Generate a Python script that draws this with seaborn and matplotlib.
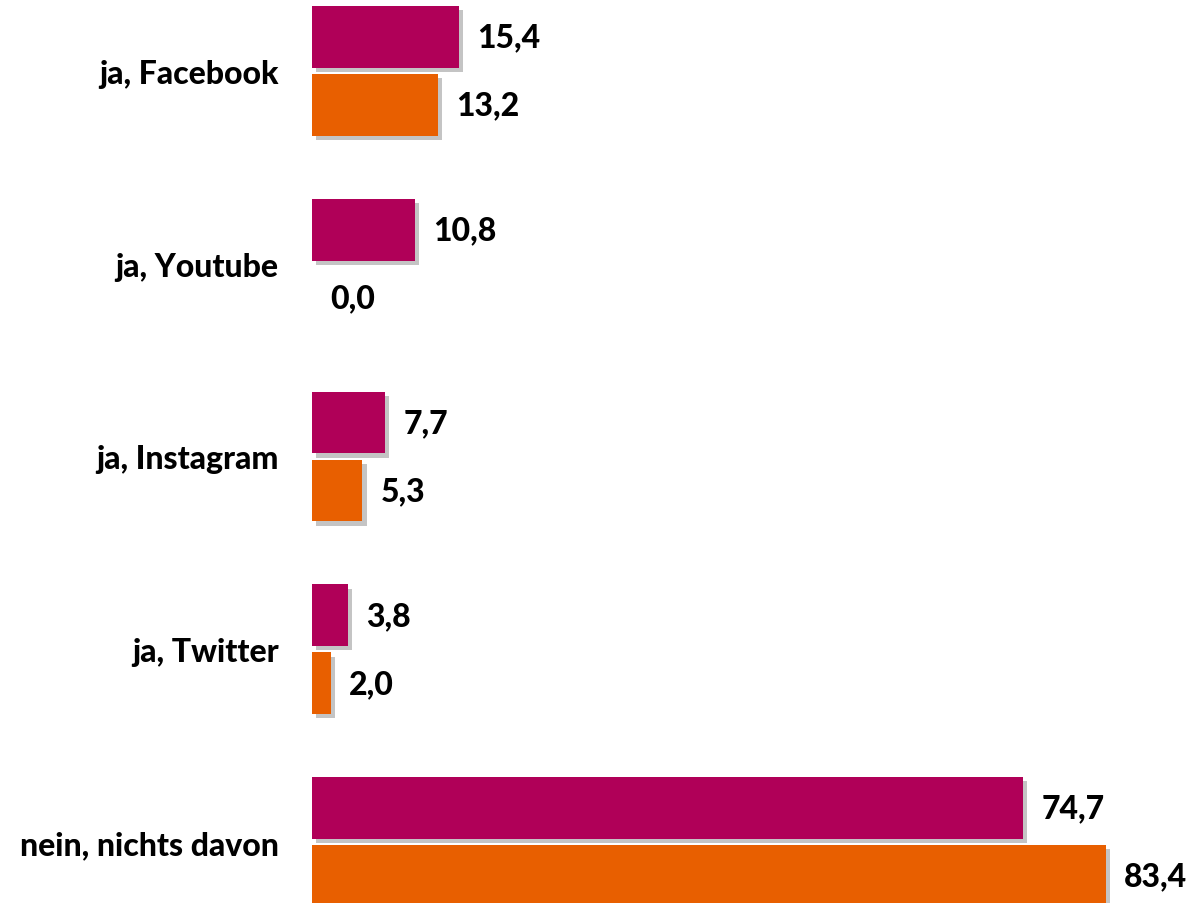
import pandas as pd
import matplotlib
matplotlib.use("Agg")
import matplotlib.pyplot as plt
import matplotlib.patheffects as pe
import seaborn as sns

# Daten aus dem Diagramm
kategorien = ["ja, Facebook", "ja, Youtube", "ja, Instagram", "ja, Twitter", "nein, nichts davon"]
reihe_1 = [15.4, 10.8, 7.7, 3.8, 74.7]
reihe_2 = [13.2, 0.0, 5.3, 2.0, 83.4]
reihen = ["Reihe 1", "Reihe 2"]
farben = ["#B00058", "#E85F00"]

df = pd.DataFrame({
    "Kategorie": kategorien * 2,
    "Wert": reihe_1 + reihe_2,
    "Reihe": [reihen[0]] * len(kategorien) + [reihen[1]] * len(kategorien),
})

sns.set_style("white")
plt.rcParams["font.family"] = ["Lato", "DejaVu Sans"]

fig = plt.figure(figsize=(11.96, 9.04), dpi=100)
ax = fig.add_axes([312 / 1196, 0, 884 / 1196, 1])

sns.barplot(data=df, x="Wert", y="Kategorie", hue="Reihe", orient="h",
            palette=farben, width=0.705, gap=0.09, legend=False, ax=ax,
            saturation=1, linewidth=0)

# Schatten unter den Balken
for patch in ax.patches:
    patch.set_path_effects([
        pe.SimplePatchShadow(offset=(3, -3), shadow_rgbFace="#8a8a8a", alpha=0.5),
        pe.Normal(),
    ])

for cont in ax.containers:
    labels = [f"{v:.1f}".replace(".", ",") for v in cont.datavalues]
    ax.bar_label(cont, labels=labels, padding=13, fontsize=23, fontweight="black",
                 color="black")

ax.set_xlim(0, 92.86)
ax.set_ylim(4.316, -0.373)
ax.set_xlabel("")
ax.set_ylabel("")
ax.set_xticks([])
ax.tick_params(axis="y", length=0, pad=24)
for lab in ax.get_yticklabels():
    lab.set_fontsize(23)
    lab.set_fontweight("black")
    lab.set_color("black")
sns.despine(ax=ax, left=True, bottom=True)

fig.savefig("out.png", dpi=100)
